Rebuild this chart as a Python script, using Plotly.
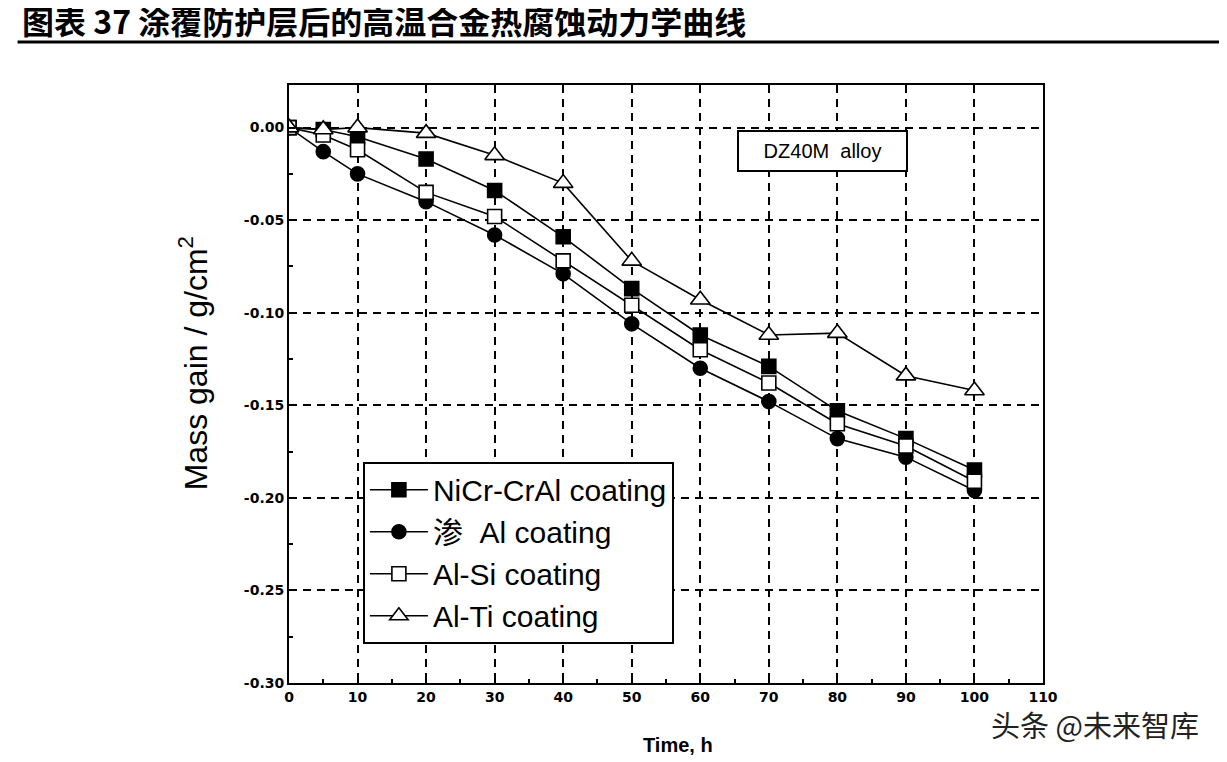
import plotly.graph_objects as go

# data
time_h = [0, 5, 10, 20, 30, 40, 50, 60, 70, 80, 90, 100]
nicr_cral = [0.0, -0.001, -0.005, -0.017, -0.034, -0.059, -0.087, -0.112, -0.129, -0.153, -0.168, -0.185]
al_pack = [0.0, -0.013, -0.025, -0.040, -0.058, -0.079, -0.106, -0.130, -0.148, -0.168, -0.178, -0.196]
al_si = [0.0, -0.004, -0.012, -0.035, -0.048, -0.072, -0.096, -0.120, -0.138, -0.160, -0.172, -0.191]
al_ti = [0.0, -0.001, 0.0, -0.003, -0.015, -0.030, -0.072, -0.093, -0.112, -0.111, -0.134, -0.142]

series_names = ["NiCr-CrAl coating", "渗  Al coating", "Al-Si coating", "Al-Ti coating"]

x_ticks = [0, 10, 20, 30, 40, 50, 60, 70, 80, 90, 100, 110]
y_ticks = [0.0, -0.05, -0.10, -0.15, -0.20, -0.25, -0.30]
y_tick_labels = ["0.00", "-0.05", "-0.10", "-0.15", "-0.20", "-0.25", "-0.30"]

TITLE = "图表 37 涂覆防护层后的高温合金热腐蚀动力学曲线"
FONT = "Arial, Liberation Sans, sans-serif"
CJK = "Noto Sans CJK SC, sans-serif"

# page body has an 8px margin, so the figure is a bit smaller than the window
W, H = 1219, 754

styles = [
    dict(symbol="square", color="black", size=14),
    dict(symbol="circle", color="black", size=14),
    dict(symbol="square", color="white", size=14),
    dict(symbol="triangle-up", color="white", size=17),
]

fig = go.Figure()
for i, (name, ys) in enumerate(zip(series_names, [nicr_cral, al_pack, al_si, al_ti])):
    st = styles[i]
    fig.add_trace(go.Scatter(
        x=time_h, y=ys, name=name, mode="lines+markers",
        line=dict(color="black", width=1.6),
        marker=dict(symbol=st["symbol"], color=st["color"], size=st["size"],
                    line=dict(color="black", width=1.6)),
    ))

axis_common = dict(
    showline=True, linecolor="black", linewidth=2, mirror=True,
    showgrid=True, gridcolor="black", gridwidth=2, griddash="8px,6px",
    zeroline=False, ticks="inside", ticklen=6, tickcolor="black", tickwidth=1.5,
    tickfont=dict(family="DejaVu Sans", size=14, color="black", weight="bold"),
)

fig.update_xaxes(
    range=[0, 110], tickvals=x_ticks,
    minor=dict(dtick=5, ticks="inside", ticklen=4, tickcolor="black", showgrid=False),
    **axis_common,
)
fig.update_yaxes(
    range=[-0.30, 0.023], tickvals=y_ticks, ticktext=y_tick_labels,
    minor=dict(dtick=0.025, ticks="inside", ticklen=4, tickcolor="black", showgrid=False),
    **axis_common,
)

fig.update_layout(
    width=W, height=H,
    margin=dict(l=281, r=184, t=77, b=79),
    paper_bgcolor="white", plot_bgcolor="white",
    font=dict(family=FONT, color="black"),
    title=dict(text=TITLE, xref="container", yref="container", x=14 / W, xanchor="left",
               y=1 - 15 / H, yanchor="middle",
               font=dict(family=CJK, size=32, color="black", weight="bold")),
    showlegend=True,
    legend=dict(x=0.098, y=0.37, xanchor="left", yanchor="top",
                bgcolor="white", bordercolor="black", borderwidth=2,
                font=dict(family=FONT + ", " + CJK, size=30, color="black"),
                traceorder="normal", itemwidth=58),
)

# underline below the title
fig.add_shape(type="line", xref="paper", yref="paper", x0=-0.36, x1=1.25, y0=1.072, y1=1.072,
              line=dict(color="black", width=3))

# x axis title
fig.add_annotation(text="<b>Time, h</b>", xref="paper", yref="paper", x=0.516, y=-0.104,
                   xanchor="center", yanchor="middle", showarrow=False,
                   font=dict(family=FONT, size=20, color="black"))

# y axis title
fig.add_annotation(text="Mass gain / g/cm<sup>2</sup>", xref="paper", yref="paper",
                   x=-0.127, y=0.535, textangle=-90, showarrow=False,
                   xanchor="center", yanchor="middle",
                   font=dict(family=FONT, size=32, color="black"))

# alloy label box
fig.add_annotation(text="DZ40M  alloy", xref="paper", yref="paper", x=0.707, y=0.89,
                   xanchor="center", yanchor="middle", showarrow=False,
                   width=165, height=36, bordercolor="black", borderwidth=2, bgcolor="white",
                   font=dict(family=FONT, size=20, color="black"))

# watermark
fig.add_annotation(text="头条 @未来智库", xref="paper", yref="paper", x=1.069, y=-0.068,
                   xanchor="center", yanchor="middle", showarrow=False,
                   font=dict(family=CJK, size=29, color="#222222"))

fig.write_html("out.html")
